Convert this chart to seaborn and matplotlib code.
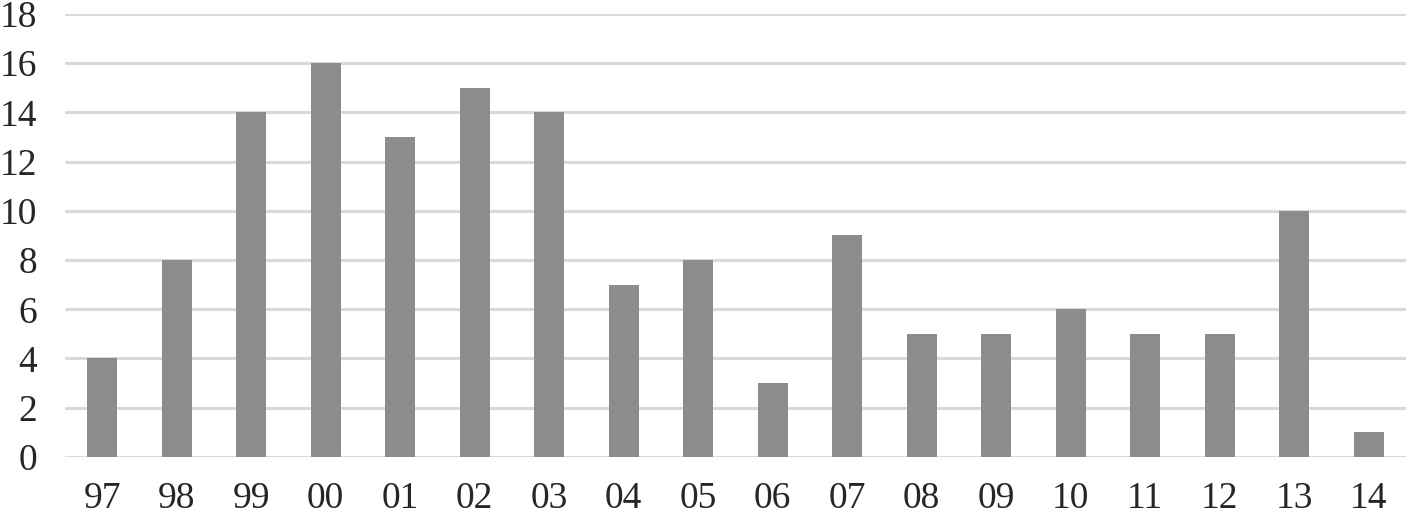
import matplotlib
matplotlib.use("Agg")
import matplotlib.pyplot as plt
import seaborn as sns
import pandas as pd

years = ["97", "98", "99", "00", "01", "02", "03", "04", "05", "06", "07", "08",
         "09", "10", "11", "12", "13", "14"]
counts = [4, 8, 14, 16, 13, 15, 14, 7, 8, 3, 9, 5, 5, 6, 5, 5, 10, 1]
yticks = [0, 2, 4, 6, 8, 10, 12, 14, 16, 18]

sns.set_theme(style="white")
plt.rcParams['font.family'] = ['Liberation Serif', 'DejaVu Serif']

df = pd.DataFrame({"year": years, "count": counts})

fig = plt.figure(figsize=(14.06, 5.14), dpi=100)
ax = fig.add_axes([0.0462, 0.111, 0.9538, 0.862])
sns.barplot(data=df, x="year", y="count", color="#8c8c8c", saturation=1,
            width=0.4, ax=ax, zorder=3, linewidth=0)
ax.set_ylim(0, 18)
ax.set_xlim(-0.5, len(years) - 0.5)
ax.set_yticks(yticks)
ax.set_yticklabels([str(t) for t in yticks])
ax.yaxis.grid(True, color="#d9d9d9", linewidth=2.2, zorder=0)
ax.set_axisbelow(True)
for s in ax.spines.values():
    s.set_visible(False)
ax.tick_params(axis='both', length=0, labelsize=27)
ax.tick_params(axis='x', pad=18)
ax.tick_params(axis='y', pad=20)
ax.set_xlabel("")
ax.set_ylabel("")
fig.savefig("out.png", dpi=100)
